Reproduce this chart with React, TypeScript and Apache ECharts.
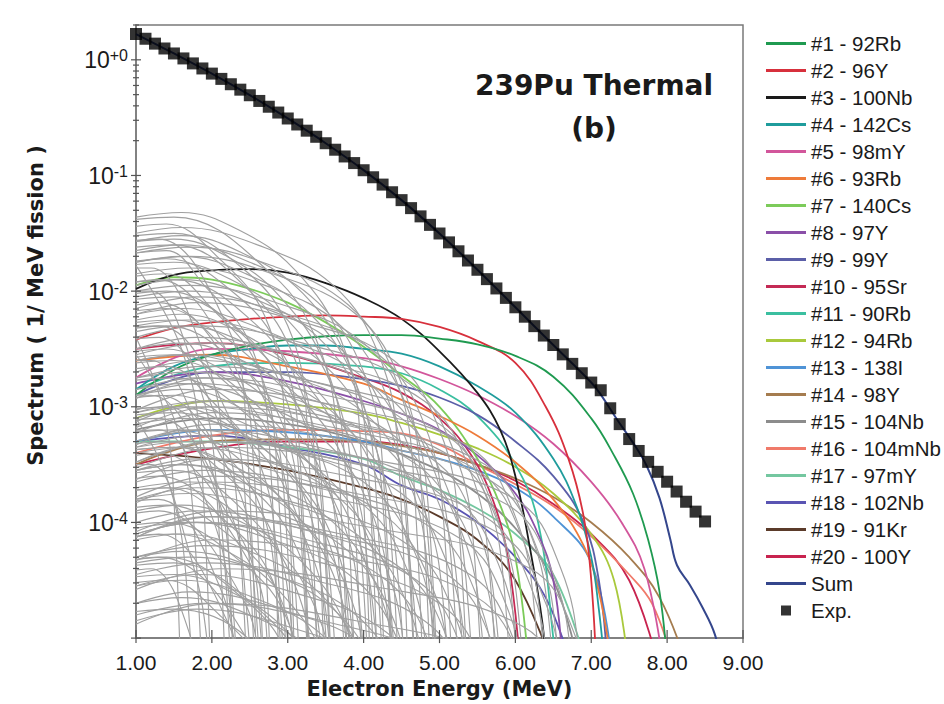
import React, { useEffect, useRef } from "react";
import * as echarts from "echarts";

const expEnergy = [1.0, 1.125, 1.25, 1.375, 1.5, 1.625, 1.75, 1.875, 2.0, 2.125, 2.25, 2.375, 2.5, 2.625, 2.75, 2.875, 3.0, 3.125, 3.25, 3.375, 3.5, 3.625, 3.75, 3.875, 4.0, 4.125, 4.25, 4.375, 4.5, 4.625, 4.75, 4.875, 5.0, 5.125, 5.25, 5.375, 5.5, 5.625, 5.75, 5.875, 6.0, 6.125, 6.25, 6.375, 6.5, 6.625, 6.75, 6.875, 7.0, 7.125, 7.25, 7.375, 7.5, 7.625, 7.75, 7.875, 8.0, 8.125, 8.25, 8.375, 8.5];
const expSpectrum = [1.672, 1.521, 1.38, 1.253, 1.135, 1.028, 0.931, 0.842, 0.76, 0.684, 0.615, 0.552, 0.494, 0.441, 0.393, 0.35, 0.311, 0.276, 0.244, 0.216, 0.19, 0.167, 0.146, 0.128, 0.111, 0.0965, 0.0834, 0.0716, 0.0612, 0.0522, 0.0443, 0.0374, 0.0315, 0.0264, 0.0221, 0.0184, 0.0153, 0.0127, 0.01055, 0.00874, 0.00725, 0.00601, 0.00498, 0.00413, 0.00342, 0.00284, 0.00235, 0.00195, 0.00162, 0.00139, 0.000971, 0.000708, 0.000526, 0.000415, 0.000334, 0.000274, 0.000225, 0.000185, 0.000151, 0.000124, 0.000102];

// ---- Named contributions: [energy MeV, log10(spectrum)] ----
const rb92 = [[1, -2.9], [1.5, -2.68], [2, -2.55], [2.5, -2.47], [3, -2.42], [3.5, -2.39], [4, -2.38], [4.5, -2.38], [5, -2.41], [5.5, -2.46], [6, -2.56], [6.5, -2.74], [7, -3.1], [7.3, -3.42], [7.55, -3.75], [7.75, -4.15], [7.9, -4.6], [8.0, -5.2]];
const y96 = [[1, -2.42], [1.5, -2.32], [2, -2.27], [2.5, -2.24], [3, -2.22], [3.5, -2.21], [4, -2.22], [4.5, -2.24], [5, -2.31], [5.5, -2.43], [6, -2.62], [6.4, -3.0], [6.7, -3.45], [6.9, -3.95], [7.0, -4.5], [7.07, -5.3]];
const nb100 = [[1, -1.98], [1.5, -1.86], [2, -1.82], [2.5, -1.81], [3, -1.84], [3.5, -1.93], [4, -2.06], [4.5, -2.24], [5, -2.52], [5.5, -2.88], [5.8, -3.2], [6.0, -3.6], [6.2, -4.25], [6.38, -5.0], [6.42, -5.6]];
const cs142 = [[1, -2.85], [1.5, -2.65], [2, -2.55], [2.5, -2.5], [3, -2.47], [3.5, -2.47], [4, -2.5], [4.5, -2.54], [5, -2.65], [5.5, -2.82], [6, -3.05], [6.5, -3.45], [6.8, -3.85], [7.0, -4.3], [7.1, -4.75], [7.17, -5.2]];
const y98m = [[1, -2.75], [2, -2.5], [3, -2.52], [4, -2.58], [4.5, -2.65], [5, -2.76], [5.5, -2.9], [6, -3.08], [6.5, -3.32], [7, -3.65], [7.4, -4.0], [7.7, -4.4], [7.92, -5.1]];
const rb93 = [[1, -2.6], [2, -2.55], [3, -2.65], [4, -2.8], [4.5, -2.94], [5, -3.08], [5.5, -3.25], [6, -3.48], [6.5, -3.8], [6.9, -4.2], [7.1, -4.6], [7.26, -5.2]];
const cs140 = [[1, -1.95], [1.5, -1.88], [2, -1.9], [2.5, -1.98], [3, -2.1], [3.5, -2.27], [4, -2.48], [4.5, -2.73], [5, -3.0], [5.5, -3.45], [5.8, -3.85], [6.0, -4.3], [6.17, -5.2]];
const y97 = [[1, -2.8], [2, -2.7], [3, -2.78], [4, -2.95], [4.5, -3.06], [5, -3.2], [5.5, -3.42], [6, -3.75], [6.3, -4.1], [6.5, -4.5], [6.62, -5.2]];
const y99 = [[1, -2.9], [2, -2.7], [3, -2.7], [4, -2.76], [4.5, -2.82], [5, -2.92], [5.5, -3.07], [6, -3.3], [6.5, -3.6], [6.9, -4.0], [7.1, -4.5], [7.21, -5.2]];
const sr95 = [[1, -2.5], [2, -2.45], [3, -2.55], [4, -2.75], [4.5, -2.88], [5, -3.1], [5.4, -3.4], [5.7, -3.8], [5.9, -4.3], [6.06, -5.2]];
const rb90 = [[1, -2.85], [2, -2.65], [3, -2.62], [4, -2.65], [4.5, -2.71], [5, -2.85], [5.5, -3.08], [6, -3.5], [6.3, -4.0], [6.5, -5.0], [6.53, -5.3]];
const rb94 = [[1, -3.1], [2, -2.95], [3, -2.98], [4, -3.06], [4.5, -3.14], [5, -3.24], [5.5, -3.36], [6, -3.52], [6.5, -3.75], [7, -4.1], [7.3, -4.5], [7.48, -5.2]];
const i138 = [[1, -3.3], [2, -3.2], [3, -3.22], [4, -3.3], [4.5, -3.38], [5, -3.45], [5.5, -3.55], [6, -3.7], [6.5, -3.95], [7, -4.35], [7.27, -5.2]];
const y98 = [[1, -3.5], [2, -3.3], [3, -3.28], [4, -3.3], [4.5, -3.34], [5, -3.4], [5.5, -3.5], [6, -3.62], [6.5, -3.78], [7, -4.0], [7.5, -4.3], [7.9, -4.65], [8.24, -5.2]];
const nb104 = [[1, -3.2], [2, -3.1], [3, -3.15], [4, -3.3], [5, -3.55], [5.5, -3.75], [6, -4.05], [6.5, -4.5], [6.82, -5.2]];
const nb104m = [[1, -3.4], [2, -3.25], [3, -3.2], [4, -3.21], [4.5, -3.23], [5, -3.33], [5.5, -3.5], [6, -3.67], [6.5, -3.86], [7, -4.12], [7.5, -4.45], [7.8, -4.7], [8.07, -5.2]];
const y97m = [[1, -3.3], [2, -3.3], [3, -3.35], [4, -3.45], [4.5, -3.6], [5, -3.72], [5.5, -3.88], [6, -4.1], [6.5, -4.45], [6.92, -5.2]];
const nb102 = [[1, -3.3], [2, -3.25], [3, -3.35], [4, -3.5], [4.5, -3.68], [5, -3.8], [5.5, -4.0], [6, -4.3], [6.4, -4.65], [6.72, -5.2]];
const kr91 = [[1, -3.4], [2, -3.45], [3, -3.55], [4, -3.7], [4.5, -3.8], [5, -3.95], [5.5, -4.15], [6, -4.5], [6.47, -5.2]];
const y100 = [[1, -3.5], [2, -3.36], [3, -3.3], [4, -3.3], [4.5, -3.33], [5, -3.4], [5.5, -3.5], [6, -3.64], [6.5, -3.84], [7, -4.1], [7.5, -4.5], [7.87, -5.2]];
const sumCurve = [[1, 0.223], [1.5, 0.055], [2, -0.119], [2.5, -0.306], [3, -0.507], [3.5, -0.721], [4, -0.954], [4.5, -1.213], [5, -1.502], [5.5, -1.815], [6, -2.14], [6.5, -2.466], [7.0, -2.79], [7.11, -2.88], [7.34, -3.11], [7.55, -3.31], [7.73, -3.51], [7.9, -3.79], [8.04, -4.14], [8.13, -4.37], [8.3, -4.54], [8.47, -4.74], [8.63, -4.97], [8.7, -5.2]];

const namedNames = ["#1 - 92Rb", "#2 - 96Y", "#3 - 100Nb", "#4 - 142Cs", "#5 - 98mY", "#6 - 93Rb", "#7 - 140Cs", "#8 - 97Y", "#9 - 99Y", "#10 - 95Sr", "#11 - 90Rb", "#12 - 94Rb", "#13 - 138I", "#14 - 98Y", "#15 - 104Nb", "#16 - 104mNb", "#17 - 97mY", "#18 - 102Nb", "#19 - 91Kr", "#20 - 100Y"];
const namedColors = ["#1f9a50", "#d7303c", "#1a1a1a", "#1f9c9c", "#d2569b", "#ee7b3a", "#7ccb5a", "#8a4fa8", "#5b5fa8", "#c42a55", "#3bbfa0", "#a9c93c", "#4f93d6", "#a57c4f", "#8c8c8c", "#f07a6a", "#74c7a0", "#5a54b3", "#5b3b2a", "#c8234f"];
const namedCurves = [rb92, y96, nb100, cs142, y98m, rb93, cs140, y97, y99, sr95, rb90, rb94, i138, y98, nb104, nb104m, y97m, nb102, kr91, y100];

// ---- Other (unlabelled) nuclides, gray: flat [E, log10, E, log10, ...] ----
const grayCurves = [
  [1, -1.36, 1.6, -1.32, 2.35, -1.47, 3.1, -1.82, 3.7, -2.42, 3.95, -3.22, 4.15, -7],
  [1, -1.38, 1.5, -1.36, 2.8, -1.86, 3.4, -2.46, 3.65, -3.26, 3.85, -7],
  [1, -1.5, 1.6, -1.45, 2.6, -1.6, 3.6, -1.95, 4.2, -2.55, 4.45, -3.35, 4.65, -7],
  [1, -1.44, 1.4, -1.42, 2.1, -1.72, 2.7, -2.22, 2.95, -3.02, 3.15, -7],
  [1, -1.57, 1.6, -1.52, 2.4, -1.67, 3.2, -2.02, 3.8, -2.62, 4.05, -3.42, 4.25, -7],
  [1, -1.75, 1.6, -1.7, 2.45, -1.85, 3.3, -2.2, 3.9, -2.8, 4.15, -3.6, 4.35, -7],
  [1, -1.56, 1.3, -1.55, 2.2, -2.3, 2.45, -3.15, 2.65, -7],
  [1, -1.67, 1.7, -1.62, 2.75, -1.77, 3.8, -2.12, 4.4, -2.72, 4.65, -3.52, 4.85, -7],
  [1, -2.0, 1.7, -1.95, 2.85, -2.1, 4.0, -2.45, 4.6, -3.05, 4.85, -3.85, 5.05, -7],
  [1, -1.62, 1.5, -1.6, 2.5, -2.0, 3.1, -2.6, 3.35, -3.4, 3.55, -7],
  [1, -2.2, 1.8, -2.1, 3.1, -2.25, 4.4, -2.6, 5.0, -3.2, 5.25, -4.0, 5.45, -7],
  [1, -1.77, 1.5, -1.75, 2.25, -1.9, 3.0, -2.25, 3.6, -2.85, 3.85, -3.65, 4.05, -7],
  [1, -1.8, 1.2, -1.8, 1.9, -2.55, 2.15, -3.4, 2.35, -7],
  [1, -2.75, 1.9, -2.65, 3.45, -2.8, 5.0, -3.15, 5.6, -3.75, 5.85, -4.55, 6.05, -7],
  [1, -1.95, 1.6, -1.9, 2.5, -2.05, 3.4, -2.4, 4.0, -3.0, 4.25, -3.8, 4.45, -7],
  [1, -1.87, 1.4, -1.85, 2.0, -2.15, 2.6, -2.65, 2.85, -3.45, 3.05, -7],
  [1, -2.4, 1.8, -2.3, 3.2, -2.45, 4.6, -2.8, 5.2, -3.4, 5.45, -4.2, 5.65, -7],
  [1, -2.05, 1.7, -2.0, 2.7, -2.15, 3.7, -2.5, 4.3, -3.1, 4.55, -3.9, 4.75, -7],
  [1, -3.18, 2.0, -3.0, 3.8, -3.15, 5.6, -3.5, 6.2, -4.1, 6.45, -4.9, 6.65, -7],
  [1, -2.07, 1.5, -2.05, 2.6, -2.5, 3.2, -3.1, 3.45, -3.9, 3.65, -7],
  [1, -2.3, 1.7, -2.25, 2.85, -2.4, 4.0, -2.75, 4.6, -3.35, 4.85, -4.15, 5.05, -7],
  [1, -2.12, 1.3, -2.1, 2.4, -2.85, 2.65, -3.7, 2.85, -7],
  [1, -2.93, 1.9, -2.75, 3.5, -2.9, 5.1, -3.25, 5.7, -3.85, 5.95, -4.65, 6.15, -7],
  [1, -2.35, 1.6, -2.3, 2.45, -2.45, 3.3, -2.8, 3.9, -3.4, 4.15, -4.2, 4.35, -7],
  [1, -2.32, 1.4, -2.3, 2.3, -2.6, 2.9, -3.1, 3.15, -3.9, 3.35, -7],
  [1, -2.7, 1.8, -2.6, 3.15, -2.75, 4.5, -3.1, 5.1, -3.7, 5.35, -4.5, 5.55, -7],
  [1, -3.48, 2.1, -3.3, 4.05, -3.45, 6.0, -3.8, 6.6, -4.4, 6.85, -5.2, 7.05, -7],
  [1, -2.6, 1.6, -2.55, 2.6, -2.7, 3.6, -3.05, 4.2, -3.65, 4.45, -4.45, 4.65, -7],
  [1, -2.41, 1.3, -2.4, 2.1, -3.15, 2.35, -4.0, 2.55, -7],
  [1, -2.57, 1.5, -2.55, 2.2, -2.7, 2.9, -3.05, 3.5, -3.65, 3.75, -4.45, 3.95, -7],
  [1, -2.9, 1.8, -2.8, 3.0, -2.95, 4.2, -3.3, 4.8, -3.9, 5.05, -4.7, 5.25, -7],
  [1, -3.23, 2.0, -3.05, 3.75, -3.2, 5.5, -3.55, 6.1, -4.15, 6.35, -4.95, 6.55, -7],
  [1, -2.67, 1.4, -2.65, 2.0, -2.95, 2.6, -3.45, 2.85, -4.25, 3.05, -7],
  [1, -2.9, 1.6, -2.85, 2.35, -3.0, 3.1, -3.35, 3.7, -3.95, 3.95, -4.75, 4.15, -7],
  [1, -3.1, 1.8, -3.0, 3.25, -3.15, 4.7, -3.5, 5.3, -4.1, 5.55, -4.9, 5.75, -7],
  [1, -2.92, 1.5, -2.9, 2.5, -3.3, 3.1, -3.9, 3.35, -4.7, 3.55, -7],
  [1, -3.48, 2.0, -3.3, 3.6, -3.45, 5.2, -3.8, 5.8, -4.4, 6.05, -5.2, 6.25, -7],
  [1, -3.15, 1.6, -3.1, 2.55, -3.25, 3.5, -3.6, 4.1, -4.2, 4.35, -5.0, 4.55, -7],
  [1, -2.92, 1.3, -2.9, 2.3, -3.65, 2.55, -4.5, 2.75, -7],
  [1, -3.4, 1.7, -3.35, 2.85, -3.5, 4.0, -3.85, 4.6, -4.45, 4.85, -5.25, 5.05, -7],
  [1, -3.22, 1.5, -3.2, 2.7, -3.65, 3.3, -4.25, 3.55, -5.05, 3.75, -7],
  [1, -3.78, 2.0, -3.6, 3.9, -3.75, 5.8, -4.1, 6.4, -4.7, 6.65, -5.5, 6.85, -7],
  [1, -3.55, 1.6, -3.5, 2.4, -3.65, 3.2, -4.0, 3.8, -4.6, 4.05, -5.4, 4.25, -7],
  [1, -3.65, 1.9, -3.55, 3.4, -3.7, 4.9, -4.05, 5.5, -4.65, 5.75, -5.45, 5.95, -7],
  [1, -3.32, 1.4, -3.3, 2.2, -3.6, 2.8, -4.1, 3.05, -4.9, 3.25, -7],
  [1, -3.8, 1.7, -3.75, 2.75, -3.9, 3.8, -4.25, 4.4, -4.85, 4.65, -5.65, 4.85, -7],
  [1, -3.21, 1.3, -3.2, 2.0, -3.95, 2.25, -4.8, 2.45, -7],
  [1, -4.13, 2.0, -3.95, 3.7, -4.1, 5.4, -4.45, 6.0, -5.05, 6.25, -5.85, 6.45, -7],
  [1, -3.72, 1.5, -3.7, 2.8, -4.2, 3.4, -4.8, 3.65, -5.6, 3.85, -7],
  [1, -4.1, 1.8, -4.0, 3.05, -4.15, 4.3, -4.5, 4.9, -5.1, 5.15, -5.9, 5.35, -7],
  [1, -3.62, 1.3, -3.6, 2.5, -4.35, 2.75, -5.2, 2.95, -7],
  [1, -4.15, 1.6, -4.1, 2.5, -4.25, 3.4, -4.6, 4.0, -5.2, 4.25, -6.0, 4.45, -7],
  [1, -4.02, 1.4, -4.0, 2.4, -4.35, 3.0, -4.85, 3.25, -5.7, 3.45, -7],
  [1, -4.45, 1.9, -4.35, 3.35, -4.5, 4.8, -4.85, 5.4, -5.45, 5.65, -6.25, 5.85, -7],
  [1, -4.12, 1.3, -4.1, 2.2, -4.85, 2.45, -5.7, 2.65, -7],
  [1, -4.47, 1.5, -4.45, 2.25, -4.6, 3.0, -4.95, 3.6, -5.55, 3.85, -6.35, 4.05, -7],
  [1, -4.7, 1.7, -4.6, 2.9, -4.75, 4.1, -5.1, 4.7, -5.7, 4.95, -6.5, 5.15, -7],
  [1, -4.52, 1.4, -4.5, 2.1, -4.8, 2.7, -5.3, 2.95, -6.1, 3.15, -7],
  [1, -4.8, 1.9, -4.7, 3.45, -4.85, 5.0, -5.2, 5.6, -5.8, 5.85, -6.6, 6.05, -7],
  [1, -4.41, 1.2, -4.4, 1.8, -5.15, 2.05, -6.0, 2.25, -7],
  [1, -3.53, 2.1, -3.35, 4.0, -3.5, 5.9, -3.85, 6.5, -4.45, 6.75, -5.25, 6.95, -7],
  [1, -4.08, 2.1, -3.9, 4.15, -4.05, 6.2, -4.4, 6.8, -5.0, 7.05, -5.8, 7.25, -7],
  [1, -3.33, 2.0, -3.15, 3.85, -3.3, 5.7, -3.65, 6.3, -4.25, 6.55, -5.05, 6.75, -7],
  [1, -3.35, 1.8, -3.25, 3.15, -3.4, 4.5, -3.75, 5.1, -4.35, 5.35, -5.15, 5.55, -7],
  [1, -3.03, 2.0, -2.85, 3.7, -3.0, 5.4, -3.35, 6.0, -3.95, 6.25, -4.75, 6.45, -7],
  [1, -2.5, 1.8, -2.4, 3.05, -2.55, 4.3, -2.9, 4.9, -3.5, 5.15, -4.3, 5.35, -7],
  [1, -4.58, 2.1, -4.4, 4.1, -4.55, 6.1, -4.9, 6.7, -5.5, 6.95, -6.3, 7.15, -7],
  [1, -1.92, 1.5, -1.9, 2.6, -2.3, 3.2, -2.9, 3.45, -3.7, 3.65, -7],
  [1, -1.75, 1.7, -1.7, 2.8, -1.85, 3.9, -2.2, 4.5, -2.8, 4.75, -3.6, 4.95, -7],
  [1, -3.63, 2.0, -3.45, 3.8, -3.6, 5.6, -3.95, 6.2, -4.55, 6.45, -5.35, 6.65, -7],
  [1, -4.3, 1.6, -4.25, 2.6, -4.4, 3.6, -4.75, 4.2, -5.35, 4.45, -6.15, 4.65, -7],
  [1, -3.02, 1.5, -3.0, 2.2, -3.15, 2.9, -3.5, 3.5, -4.1, 3.75, -4.9, 3.95, -7],
  [1, -1.52, 1.5, -1.5, 2.4, -1.8, 3.0, -2.3, 3.25, -3.1, 3.45, -7],
  [1, -1.65, 1.6, -1.6, 2.5, -1.75, 3.4, -2.1, 4.0, -2.7, 4.25, -3.5, 4.45, -7],
  [1, -1.67, 1.4, -1.65, 1.9, -1.95, 2.5, -2.45, 2.75, -3.25, 2.95, -7],
  [1, -1.57, 1.5, -1.55, 2.2, -1.7, 2.9, -2.05, 3.5, -2.65, 3.75, -3.45, 3.95, -7],
  [1, -1.85, 1.7, -1.8, 2.7, -1.95, 3.7, -2.3, 4.3, -2.9, 4.55, -3.7, 4.75, -7],
  [1, -2.0, 1.2, -2.0, 1.8, -2.75, 2.05, -3.6, 2.25, -7],
  [1, -2.02, 1.4, -2.0, 2.3, -2.3, 2.9, -2.8, 3.15, -3.6, 3.35, -7],
  [1, -2.15, 1.8, -2.05, 3.0, -2.2, 4.2, -2.55, 4.8, -3.15, 5.05, -3.95, 5.25, -7],
  [1, -2.2, 1.6, -2.15, 2.55, -2.3, 3.5, -2.65, 4.1, -3.25, 4.35, -4.05, 4.55, -7],
  [1, -2.27, 1.5, -2.25, 2.8, -2.75, 3.4, -3.35, 3.65, -4.15, 3.85, -7],
  [1, -2.55, 1.9, -2.45, 3.35, -2.6, 4.8, -2.95, 5.4, -3.55, 5.65, -4.35, 5.85, -7],
  [1, -2.31, 1.3, -2.3, 2.2, -3.05, 2.45, -3.9, 2.65, -7],
  [1, -2.5, 1.6, -2.45, 2.4, -2.6, 3.2, -2.95, 3.8, -3.55, 4.05, -4.35, 4.25, -7],
  [1, -2.52, 1.4, -2.5, 2.2, -2.8, 2.8, -3.3, 3.05, -4.1, 3.25, -7],
  [1, -2.85, 1.8, -2.75, 3.1, -2.9, 4.4, -3.25, 5.0, -3.85, 5.25, -4.65, 5.45, -7],
  [1, -2.75, 1.7, -2.7, 2.75, -2.85, 3.8, -3.2, 4.4, -3.8, 4.65, -4.6, 4.85, -7],
  [1, -3.13, 2.0, -2.95, 3.6, -3.1, 5.2, -3.45, 5.8, -4.05, 6.05, -4.85, 6.25, -7],
  [1, -2.77, 1.5, -2.75, 2.6, -3.15, 3.2, -3.75, 3.45, -4.55, 3.65, -7],
  [1, -2.6, 1.2, -2.6, 1.9, -3.35, 2.15, -4.2, 2.35, -7],
  [1, -3.05, 1.6, -3.0, 2.45, -3.15, 3.3, -3.5, 3.9, -4.1, 4.15, -4.9, 4.35, -7],
  [1, -3.3, 1.7, -3.2, 2.9, -3.35, 4.1, -3.7, 4.7, -4.3, 4.95, -5.1, 5.15, -7],
  [1, -3.02, 1.4, -3.0, 2.0, -3.3, 2.6, -3.8, 2.85, -4.6, 3.05, -7],
  [1, -3.3, 1.9, -3.2, 3.4, -3.35, 4.9, -3.7, 5.5, -4.3, 5.75, -5.1, 5.95, -7],
  [1, -3.37, 1.5, -3.35, 2.25, -3.5, 3.0, -3.85, 3.6, -4.45, 3.85, -5.25, 4.05, -7],
  [1, -3.55, 1.6, -3.5, 2.6, -3.65, 3.6, -4.0, 4.2, -4.6, 4.45, -5.4, 4.65, -7],
  [1, -3.42, 1.3, -3.4, 2.4, -4.15, 2.65, -5.0, 2.85, -7],
  [1, -3.57, 1.5, -3.55, 2.5, -3.95, 3.1, -4.55, 3.35, -5.35, 3.55, -7],
  [1, -3.8, 1.8, -3.7, 3.2, -3.85, 4.6, -4.2, 5.2, -4.8, 5.45, -5.6, 5.65, -7],
  [1, -4.3, 1.9, -4.2, 3.45, -4.35, 5.0, -4.7, 5.6, -5.3, 5.85, -6.1, 6.05, -7],
  [1, -4.05, 1.7, -4.0, 2.8, -4.15, 3.9, -4.5, 4.5, -5.1, 4.75, -5.9, 4.95, -7],
  [1, -3.87, 1.4, -3.85, 2.3, -4.15, 2.9, -4.65, 3.15, -5.45, 3.35, -7],
  [1, -4.55, 1.6, -4.5, 2.55, -4.65, 3.5, -5.0, 4.1, -5.6, 4.35, -6.4, 4.55, -7],
  [1, -3.81, 1.3, -3.8, 2.1, -4.55, 2.35, -5.4, 2.55, -7],
  [1, -4.37, 1.5, -4.35, 2.7, -4.8, 3.3, -5.4, 3.55, -6.2, 3.75, -7],
  [1, -4.55, 1.8, -4.45, 3.05, -4.6, 4.3, -4.95, 4.9, -5.55, 5.15, -6.35, 5.35, -7],
  [1, -4.32, 1.3, -4.3, 2.5, -5.05, 2.75, -5.9, 2.95, -7],
  [1, -3.83, 2.0, -3.65, 3.65, -3.8, 5.3, -4.15, 5.9, -4.75, 6.15, -5.55, 6.35, -7],
  [1, -2.6, 1.7, -2.55, 2.85, -2.7, 4.0, -3.05, 4.6, -3.65, 4.85, -4.45, 5.05, -7],
  [1, -4.0, 1.8, -3.9, 3.15, -4.05, 4.5, -4.4, 5.1, -5.0, 5.35, -5.8, 5.55, -7],
  [1, -3.9, 1.6, -3.85, 2.4, -4.0, 3.2, -4.35, 3.8, -4.95, 4.05, -5.75, 4.25, -7],
  [1, -3.37, 1.5, -3.35, 2.6, -3.75, 3.2, -4.35, 3.45, -5.15, 3.65, -7],
  [1, -4.33, 2.0, -4.15, 3.75, -4.3, 5.5, -4.65, 6.1, -5.25, 6.35, -6.05, 6.55, -7],
  [1, -3.35, 1.7, -3.3, 2.7, -3.45, 3.7, -3.8, 4.3, -4.4, 4.55, -5.2, 4.75, -7],
  [1, -3.92, 1.3, -3.9, 2.4, -4.65, 2.65, -5.5, 2.85, -7],
  [1, -4.12, 1.5, -4.1, 2.2, -4.25, 2.9, -4.6, 3.5, -5.2, 3.75, -6.0, 3.95, -7],
  [1, -4.1, 1.8, -4.0, 3.25, -4.15, 4.7, -4.5, 5.3, -5.1, 5.55, -5.9, 5.75, -7],
  [1, -4.7, 1.6, -4.65, 2.5, -4.8, 3.4, -5.15, 4.0, -5.75, 4.25, -6.55, 4.45, -7],
  [1, -3.72, 1.4, -3.7, 2.2, -4.0, 2.8, -4.5, 3.05, -5.3, 3.25, -7],
  [1, -3.7, 1.7, -3.65, 2.85, -3.8, 4.0, -4.15, 4.6, -4.75, 4.85, -5.55, 5.05, -7],
  [1, -4.13, 1.9, -3.95, 3.5, -4.1, 5.1, -4.45, 5.7, -5.05, 5.95, -5.85, 6.15, -7],
  [1, -3.07, 1.5, -3.05, 2.25, -3.2, 3.0, -3.55, 3.6, -4.15, 3.85, -4.95, 4.05, -7],
  [1, -3.11, 1.3, -3.1, 2.2, -3.85, 2.45, -4.7, 2.65, -7],
  [1, -4.32, 1.4, -4.3, 2.4, -4.65, 3.0, -5.15, 3.25, -5.95, 3.45, -7],
  [1, -4.35, 1.7, -4.3, 2.8, -4.45, 3.9, -4.8, 4.5, -5.4, 4.75, -6.2, 4.95, -7],
  [1, -3.55, 1.8, -3.45, 3.05, -3.6, 4.3, -3.95, 4.9, -4.55, 5.15, -5.35, 5.35, -7],
  [1, -2.62, 1.5, -2.6, 2.7, -3.05, 3.3, -3.65, 3.55, -4.45, 3.75, -7],
  [1, -2.85, 1.6, -2.8, 2.55, -2.95, 3.5, -3.3, 4.1, -3.9, 4.35, -4.7, 4.55, -7],
  [1, -2.9, 1.2, -2.9, 2.0, -3.65, 2.25, -4.5, 2.45, -7],
  [1, -3.05, 1.9, -2.95, 3.4, -3.1, 4.9, -3.45, 5.5, -4.05, 5.75, -4.85, 5.95, -7],
  [1, -2.17, 1.4, -2.15, 2.1, -2.45, 2.7, -2.95, 2.95, -3.75, 3.15, -7],
  [1, -2.25, 1.6, -2.2, 2.35, -2.35, 3.1, -2.7, 3.7, -3.3, 3.95, -4.1, 4.15, -7],
  [1, -1.92, 1.3, -1.9, 2.3, -2.65, 2.55, -3.5, 2.75, -7],
  [1, -1.74, 1.4, -1.72, 2.3, -2.02, 2.9, -2.52, 3.15, -3.32, 3.35, -7],
  [1, -4.88, 2.0, -4.7, 3.9, -4.85, 5.8, -5.2, 6.4, -5.8, 6.85, -7],
  [1, -4.85, 1.8, -4.75, 3.0, -4.9, 4.2, -5.25, 4.8, -5.85, 5.25, -7],
  [1, -3.5, 1.2, -3.5, 1.7, -4.25, 1.95, -5.1, 2.15, -7],
  [1, -4.77, 1.5, -4.75, 2.8, -5.25, 3.85, -7],
  [1, -2.55, 1.5, -3.1, 1.75, -3.9, 1.95, -7],
  [1, -2.4, 1.35, -3.0, 1.5, -3.8, 1.65, -7],
  [1, -1.78, 1.6, -2.5, 1.85, -3.35, 2.05, -7],
  [1, -3.1, 1.4, -3.6, 1.65, -4.4, 1.85, -7],
];

// ---- Axis ticks ----
const xTickValues = [1, 2, 3, 4, 5, 6, 7, 8, 9];
const yDecades = [1e-5, 1e-4, 1e-3, 1e-2, 1e-1, 1];
const yMinorMultipliers = [2, 3, 4, 5, 6, 7, 8, 9];

const FONT = "Liberation Sans, Arial, sans-serif";
const BOLD_FONT = "DejaVu Sans, Verdana, sans-serif";
const TEXT = "#1a1a1a";
const AXIS = "#7a7a7a";
const LINE_ICON = "path://M0,0h40v3h-40z";
const SQUARE_ICON = "path://M0,0h10v10h-10z";

function fromLog(pts: number[][]) {
  return pts.map(([e, l]) => [e, Math.pow(10, l)]);
}
function fromFlat(flat: number[]) {
  const out: number[][] = [];
  for (let i = 0; i < flat.length; i += 2) out.push([flat[i], Math.pow(10, flat[i + 1])]);
  return out;
}

function buildOption() {
  type Tick = { axis: "x" | "y"; v: number; len: number };
  const ticks: Tick[] = [];
  xTickValues.forEach((v) => ticks.push({ axis: "x", v, len: 0 }));
  yDecades.forEach((d) => {
    ticks.push({ axis: "y", v: d, len: 5 });
    yMinorMultipliers.forEach((m) => {
      const v = d * m;
      if (v <= 2.0001) ticks.push({ axis: "y", v, len: 3 });
    });
  });

  const series: any[] = [];
  for (let i = namedCurves.length - 1; i >= 0; i--) {
    series.push({
      name: namedNames[i],
      type: "line",
      data: fromLog(namedCurves[i]),
      showSymbol: false,
      symbol: "none",
      smooth: 0.4,
      silent: true,
      color: namedColors[i],
      lineStyle: { color: namedColors[i], width: 1.8 },
      z: 2,
    });
  }
  grayCurves.forEach((g, i) => {
    series.push({
      name: "other" + i,
      type: "line",
      data: fromFlat(g),
      showSymbol: false,
      symbol: "none",
      smooth: 0.4,
      silent: true,
      lineStyle: { color: "#a0a0a0", width: 1.15 },
      z: 3,
    });
  });
  series.push({
    name: "Sum",
    type: "line",
    data: fromLog(sumCurve),
    showSymbol: false,
    symbol: "none",
    smooth: 0.4,
    silent: true,
    color: "#34468c",
    lineStyle: { color: "#34468c", width: 2 },
    z: 4,
  });
  series.push({
    name: "Exp.",
    type: "scatter",
    data: expEnergy.map((e, i) => [e, expSpectrum[i]]),
    symbol: "rect",
    symbolSize: 12,
    color: "#000",
    itemStyle: { color: "#000" },
    silent: true,
    z: 5,
  });
  series.push({
    name: "ticks",
    type: "custom",
    silent: true,
    clip: false,
    z: 6,
    data: ticks.map(() => [5, 0.001]),
    renderItem: (params: any, api: any) => {
      const t = ticks[params.dataIndex];
      if (t.axis === "y") {
        const p = api.coord([1, t.v]);
        return {
          type: "line",
          shape: { x1: p[0] - t.len, y1: p[1], x2: p[0] + t.len, y2: p[1] },
          style: { stroke: "#555", lineWidth: 1.2 },
        };
      }
      const p = api.coord([t.v, 1e-5]);
      return {
        type: "line",
        shape: { x1: p[0], y1: p[1] - 8, x2: p[0], y2: p[1] + 5 },
        style: { stroke: "#555", lineWidth: 1.2 },
      };
    },
  });

  return {
    animation: false,
    backgroundColor: "#ffffff",
    grid: {
      left: 136,
      top: 25,
      right: 201,
      bottom: 61,
      show: true,
      borderColor: AXIS,
      borderWidth: 1.5,
      backgroundColor: "transparent",
    },
    legend: {
      orient: "vertical",
      left: 761,
      top: 28,
      itemWidth: 40,
      itemHeight: 10,
      itemGap: 6,
      selectedMode: false,
      textStyle: { fontSize: 20.5, fontFamily: FONT, color: TEXT, lineHeight: 21 },
      data: [
        ...namedNames.map((n) => ({ name: n, icon: LINE_ICON })),
        { name: "Sum", icon: LINE_ICON },
        { name: "Exp.", icon: SQUARE_ICON },
      ],
    },
    graphic: [
      {
        type: "text",
        x: 594,
        y: 85,
        style: { text: "239Pu Thermal", fontSize: 28, fontWeight: "bold", fontFamily: BOLD_FONT, fill: TEXT, align: "center", verticalAlign: "middle" },
      },
      {
        type: "text",
        x: 594,
        y: 128,
        style: { text: "(b)", fontSize: 28, fontWeight: "bold", fontFamily: BOLD_FONT, fill: TEXT, align: "center", verticalAlign: "middle" },
      },
    ],
    xAxis: {
      type: "value",
      min: 1,
      max: 9,
      interval: 1,
      name: "Electron Energy (MeV)",
      nameLocation: "middle",
      nameGap: 36,
      nameTextStyle: { fontSize: 21, fontWeight: "bold", fontFamily: BOLD_FONT, color: TEXT },
      axisLine: { show: true, onZero: false, lineStyle: { color: AXIS, width: 1.5 } },
      axisTick: { show: false },
      splitLine: { show: false },
      axisLabel: {
        fontSize: 21,
        fontFamily: FONT,
        color: TEXT,
        margin: 14,
        formatter: (v: number) => v.toFixed(2),
      },
    },
    yAxis: {
      type: "log",
      logBase: 10,
      min: 1e-5,
      max: 2,
      name: "Spectrum ( 1/ MeV fission )",
      nameLocation: "middle",
      nameGap: 90,
      nameTextStyle: { fontSize: 21, fontWeight: "bold", fontFamily: BOLD_FONT, color: TEXT, padding: [0, 0, 0, 52] },
      axisLine: { show: true, lineStyle: { color: AXIS, width: 1.5 } },
      axisTick: { show: false },
      minorTick: { show: false },
      splitLine: { show: false },
      axisLabel: {
        margin: 8,
        formatter: (v: number) => {
          const lg = Math.log10(v);
          const e = Math.round(lg);
          if (Math.abs(lg - e) > 1e-6 || e <= -5) return "";
          return "{b|10}{s|" + (e === 0 ? "+0" : String(e)) + "}";
        },
        rich: {
          b: { fontSize: 23, fontFamily: FONT, color: TEXT, lineHeight: 24, verticalAlign: "bottom" },
          s: { fontSize: 16, fontFamily: FONT, color: TEXT, lineHeight: 15, verticalAlign: "top" },
        },
      },
    },
    series,
  };
}

export default function App() {
  const ref = useRef<HTMLDivElement>(null);
  useEffect(() => {
    if (!ref.current) return;
    const chart = echarts.init(ref.current, null, { renderer: "svg" });
    chart.setOption(buildOption() as any);
    return () => chart.dispose();
  }, []);
  return (
    <div
      ref={ref}
      style={{ position: "fixed", left: 0, top: 0, width: 944, height: 704, background: "#ffffff" }}
    />
  );
}
